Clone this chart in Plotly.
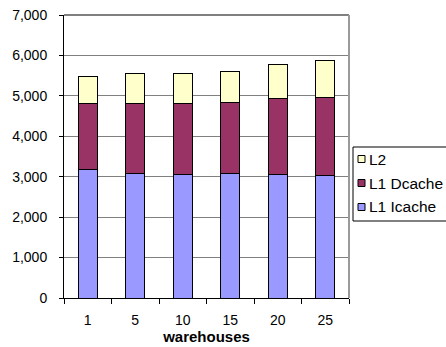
import plotly.graph_objects as go

# Cache misses per warehouse count, stacked by cache level
warehouses = ["1", "5", "10", "15", "20", "25"]
l1_icache = [3190, 3090, 3065, 3090, 3065, 3040]
l1_dcache = [1620, 1720, 1755, 1755, 1870, 1930]
l2 = [670, 750, 740, 750, 830, 915]

series_names = ["L1 Icache", "L1 Dcache", "L2"]
series_colors = ["#9999FF", "#993366", "#FFFFCC"]
series_values = [l1_icache, l1_dcache, l2]

y_ticks = [0, 1000, 2000, 3000, 4000, 5000, 6000, 7000]
y_tick_text = ["0", "1,000", "2,000", "3,000", "4,000", "5,000", "6,000", "7,000"]

FONT = "Liberation Sans, Arial, sans-serif"

fig = go.Figure()
for name, color, vals in zip(series_names, series_colors, series_values):
    fig.add_trace(go.Bar(
        x=warehouses, y=vals, name=name,
        marker=dict(color=color, line=dict(color="black", width=1)),
        showlegend=False,
    ))

fig.update_layout(
    width=446, height=347,
    margin=dict(l=64, r=97, t=15, b=49),
    paper_bgcolor="white", plot_bgcolor="white",
    barmode="stack", bargap=0.6,
    font=dict(family=FONT, size=14, color="black"),
    xaxis=dict(
        type="category", automargin=False,
        showline=True, linecolor="black", linewidth=1,
        ticks="outside", tickson="boundaries", ticklen=5, tickcolor="black",
        ticklabelstandoff=9,
        showgrid=False,
        title=dict(text="<b>warehouses</b>", font=dict(size=15), standoff=3),
    ),
    yaxis=dict(
        range=[0, 7000], automargin=False,
        tickvals=y_ticks, ticktext=y_tick_text,
        showline=True, linecolor="black", linewidth=1,
        ticks="outside", ticklen=4, tickcolor="black",
        ticklabelstandoff=9,
        showgrid=True, gridcolor="#808080", gridwidth=1,
        zeroline=False,
    ),
)

# Plot-area frame: gray top and right edges
fig.add_shape(type="line", xref="paper", yref="paper", x0=0, x1=1, y0=1, y1=1,
              line=dict(color="#808080", width=2))
fig.add_shape(type="line", xref="paper", yref="paper", x0=1, x1=1, y0=0, y1=1,
              line=dict(color="#9a9a9a", width=2))

# Legend drawn by hand: bordered box, square swatches, labels (top to bottom: L2, L1 Dcache, L1 Icache)
plot_w = 446 - 64 - 97
plot_h = 347 - 15 - 49


def px(xp):
    return (xp - 64) / plot_w


def py(yp):
    return (298 - yp) / plot_h


fig.add_shape(type="rect", xref="paper", yref="paper",
              x0=px(353), x1=px(452), y0=py(147), y1=py(221),
              line=dict(color="black", width=1), fillcolor="white", layer="above")
rows = [159, 183, 207]
for row_y, name, color in zip(rows, series_names[::-1], series_colors[::-1]):
    fig.add_shape(type="rect", xref="paper", yref="paper",
                  x0=px(358), x1=px(365), y0=py(row_y + 3.5), y1=py(row_y - 3.5),
                  line=dict(color="black", width=1), fillcolor=color, layer="above")
    fig.add_annotation(text=name, xref="paper", yref="paper",
                       x=px(367), y=py(row_y), xanchor="left", yanchor="middle",
                       showarrow=False, font=dict(size=15.5, family=FONT))

fig.write_html("out.html")
